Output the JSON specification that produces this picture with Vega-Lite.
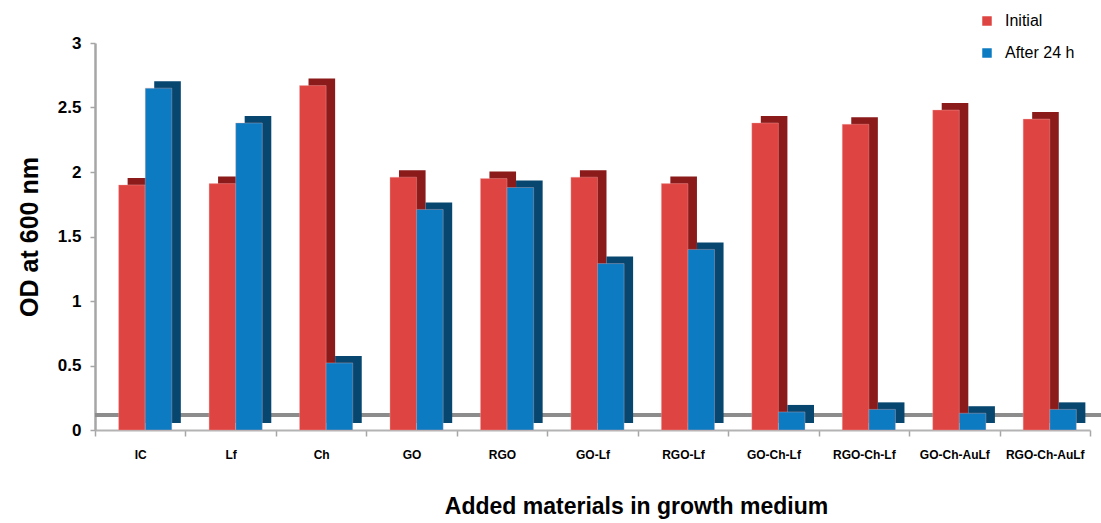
{
  "$schema": "https://vega.github.io/schema/vega-lite/v6.json",
  "width": 995,
  "height": 387,
  "autosize": "none",
  "padding": {"left": 95, "top": 43, "right": 11, "bottom": 93},
  "background": "white",
  "config": {
    "view": {"stroke": null},
    "font": "Liberation Sans"
  },
  "data": {
    "values": [
      {"material": "IC", "series": "Initial", "od": 1.90},
      {"material": "IC", "series": "After 24 h", "od": 2.65},
      {"material": "Lf", "series": "Initial", "od": 1.91},
      {"material": "Lf", "series": "After 24 h", "od": 2.38},
      {"material": "Ch", "series": "Initial", "od": 2.67},
      {"material": "Ch", "series": "After 24 h", "od": 0.52},
      {"material": "GO", "series": "Initial", "od": 1.96},
      {"material": "GO", "series": "After 24 h", "od": 1.71},
      {"material": "RGO", "series": "Initial", "od": 1.95},
      {"material": "RGO", "series": "After 24 h", "od": 1.88},
      {"material": "GO-Lf", "series": "Initial", "od": 1.96},
      {"material": "GO-Lf", "series": "After 24 h", "od": 1.29},
      {"material": "RGO-Lf", "series": "Initial", "od": 1.91},
      {"material": "RGO-Lf", "series": "After 24 h", "od": 1.40},
      {"material": "GO-Ch-Lf", "series": "Initial", "od": 2.38},
      {"material": "GO-Ch-Lf", "series": "After 24 h", "od": 0.14},
      {"material": "RGO-Ch-Lf", "series": "Initial", "od": 2.37},
      {"material": "RGO-Ch-Lf", "series": "After 24 h", "od": 0.16},
      {"material": "GO-Ch-AuLf", "series": "Initial", "od": 2.48},
      {"material": "GO-Ch-AuLf", "series": "After 24 h", "od": 0.13},
      {"material": "RGO-Ch-AuLf", "series": "Initial", "od": 2.41},
      {"material": "RGO-Ch-AuLf", "series": "After 24 h", "od": 0.16}
    ]
  },
  "encoding": {
    "x": {
      "field": "material",
      "type": "nominal",
      "sort": null,
      "scale": {"paddingInner": 0, "paddingOuter": 0},
      "axis": {
        "title": "Added materials in growth medium",
        "titleFont": "Liberation Sans",
        "titleFontSize": 23,
        "titleFontWeight": "bold",
        "titleColor": "black",
        "titleX": 541,
        "titleY": 88,
        "titleBaseline": "bottom",
        "labelAngle": 0,
        "labelFont": "Liberation Sans",
        "labelFontSize": 12,
        "labelFontWeight": "bold",
        "labelColor": "black",
        "labelPadding": 13,
        "tickBand": "extent",
        "tickColor": "#a6a6a6",
        "tickSize": 6,
        "tickWidth": 1.5,
        "domainColor": "#b3b3b3",
        "domainWidth": 2
      }
    },
    "y": {
      "field": "od",
      "type": "quantitative",
      "scale": {"domain": [0, 3]},
      "axis": {
        "title": "OD at 600 nm",
        "titleFont": "Liberation Sans",
        "titleFontSize": 25,
        "titleFontWeight": "bold",
        "titleColor": "black",
        "titlePadding": 15,
        "values": [0, 0.5, 1, 1.5, 2, 2.5, 3],
        "format": ".1~f",
        "labelFontSize": 17,
        "labelFontWeight": "bold",
        "labelColor": "black",
        "labelPadding": 9,
        "grid": false,
        "tickColor": "#a6a6a6",
        "tickSize": 5,
        "tickWidth": 1.5,
        "domainColor": "#a6a6a6",
        "domainWidth": 2.5
      }
    }
  },
  "layer": [
    {
      "mark": {"type": "rule", "color": "#8c8c8c", "strokeWidth": 3.5, "yOffset": -15, "xOffset": 14},
      "encoding": {"y": {"datum": 0}, "x": null}
    },
    {
      "mark": {"type": "bar", "yOffset": -7, "y2Offset": -7},
      "encoding": {
        "xOffset": {
          "field": "series",
          "sort": ["Initial", "After 24 h"],
          "scale": {"paddingInner": 0, "paddingOuter": 0.7, "range": [14, 104.45]}
        },
        "color": {
          "field": "series",
          "scale": {"domain": ["Initial", "After 24 h"], "range": ["#8b1a1a", "#06466f"]},
          "legend": null
        }
      }
    },
    {
      "mark": {"type": "bar", "stroke": "#f0b0b0", "strokeWidth": 0.6, "strokeOpacity": 0.6},
      "encoding": {
        "xOffset": {
          "field": "series",
          "sort": ["Initial", "After 24 h"],
          "scale": {"paddingInner": 0, "paddingOuter": 0.7, "range": [5, 95.45]}
        },
        "color": {
          "field": "series",
          "scale": {"domain": ["Initial", "After 24 h"], "range": ["#de4542", "#0d7bc1"]},
          "legend": {
            "title": null,
            "orient": "none",
            "legendX": 884,
            "legendY": -30,
            "symbolType": "square",
            "symbolSize": 90,
            "symbolStrokeWidth": 0,
            "labelFont": "Liberation Sans",
            "labelFontSize": 16,
            "labelColor": "black",
            "labelOffset": 10,
            "rowPadding": 16
          }
        }
      }
    }
  ],
  "resolve": {"scale": {"color": "independent", "xOffset": "independent"}}
}
